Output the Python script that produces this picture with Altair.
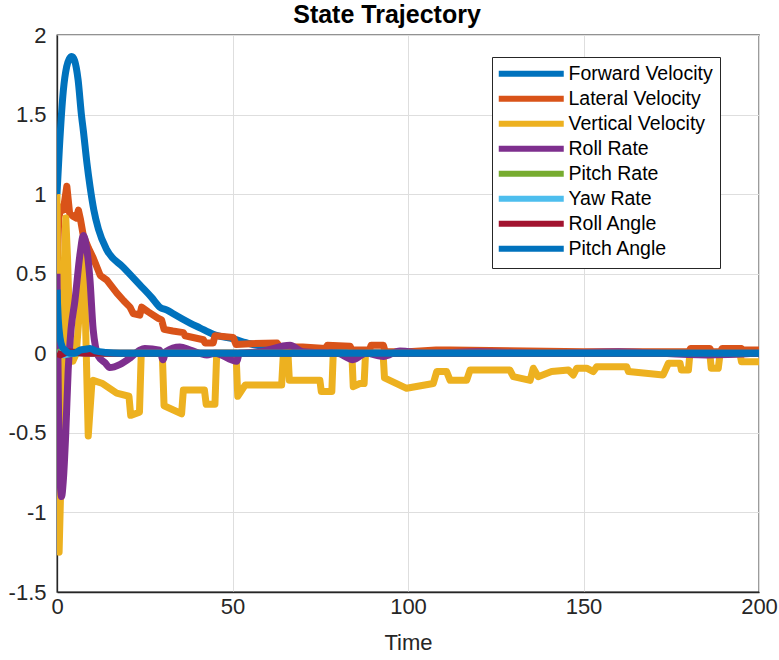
import altair as alt
import pandas as pd

FONT = "Liberation Sans"

series_names = ["Forward Velocity", "Lateral Velocity", "Vertical Velocity", "Roll Rate",
                "Pitch Rate", "Yaw Rate", "Roll Angle", "Pitch Angle"]
series_colors = ["#0072BD", "#D95319", "#EDB120", "#7E2F8E",
                 "#77AC30", "#4DBEEE", "#A2142F", "#0072BD"]
smooth_series = ["Forward Velocity", "Roll Rate", "Pitch Angle"]

x_ticks = [0, 50, 100, 150, 200]
y_ticks = [-1.5, -1, -0.5, 0, 0.5, 1, 1.5, 2]

# Forward Velocity
fv_t = [0, 0.66, 1.8, 2.75, 3.5, 4.2, 5.0, 6.0, 7.0, 7.5, 8.5, 9.4, 10.5, 11.8, 14.2, 18.9,
        23.6, 27.0, 29.3, 31.5, 33.0, 37.9, 40.7, 44.5, 50.2, 55.0, 60.0, 65.0, 70.0, 80.0,
        100.0, 150.0, 200.0]
fv_v = [1.0, 1.28, 1.65, 1.80, 1.85, 1.865, 1.84, 1.72, 1.49, 1.40, 1.20, 1.05, 0.90, 0.78,
        0.65, 0.54, 0.43, 0.35, 0.29, 0.27, 0.25, 0.19, 0.16, 0.12, 0.09, 0.06, 0.04, 0.025,
        0.01, 0.005, 0.0, 0.0, 0.0]

# Lateral Velocity
lv_t = [0, 0.5, 1.2, 1.8, 2.8, 3.6, 4.6, 5.5, 6.1, 6.7, 7.5, 9.0, 10.3, 12.3, 14.2, 17.0,
        19.0, 20.8, 21.7, 23.6, 24.1, 26.0, 28.8, 29.8, 30.5, 33.0, 36.0, 36.5, 41.7, 42.2,
        44.5, 45.0, 50.2, 51.0, 55.0, 62.7, 63.5, 66.4, 70.0, 76.5, 77.0, 83.5, 84.0, 89.0,
        89.5, 93.0, 93.5, 100.0, 108.0, 112.0, 150.0, 180.0, 180.5, 186.0, 186.5, 189.0,
        189.5, 195.0, 195.5, 200.0]
lv_v = [0.5, 0.85, 0.92, 0.9, 1.05, 0.88, 0.86, 0.85, 0.9, 0.84, 0.74, 0.66, 0.6, 0.49, 0.46,
        0.38, 0.33, 0.29, 0.25, 0.24, 0.29, 0.26, 0.22, 0.21, 0.15, 0.14, 0.13, 0.11, 0.085,
        0.065, 0.065, 0.11, 0.10, 0.055, 0.06, 0.065, 0.04, 0.04, 0.04, 0.03, 0.05, 0.045,
        0.02, 0.02, 0.05, 0.05, 0.01, 0.01, 0.02, 0.02, 0.01, 0.01, 0.03, 0.03, 0.01, 0.01,
        0.03, 0.03, 0.02, 0.02]

# Vertical Velocity
vv_t = [0, 0.6, 1.0, 1.5, 2.0, 2.5, 3.0, 3.8, 4.5, 5.5, 6.5, 7.6, 8.9, 9.9, 10.3, 13.0, 17.0,
        20.5, 21.0, 23.5, 24.0, 30.0, 30.5, 35.5, 36.0, 42.0, 42.5, 45.0, 45.5, 51.0, 51.5,
        53.6, 64.0, 64.5, 65.8, 66.2, 74.9, 75.3, 78.3, 78.7, 84.0, 84.4, 86.3, 87.5, 87.9,
        92.9, 93.3, 99.6, 107.2, 108.2, 111.0, 112.0, 116.7, 117.7, 129.0, 130.0, 134.8,
        135.7, 137.1, 140.9, 145.7, 147.1, 148.1, 150.9, 152.8, 153.8, 162.3, 162.8, 172.7,
        174.2, 177.5, 177.9, 179.9, 180.3, 186.0, 186.4, 188.4, 188.9, 194.6, 195.0, 200.0]
vv_v = [1.0, -1.25, -0.9, -0.2, 0.5, 0.85, 0.6, 0.0, -0.05, 0.0, 0.3, 0.68, -0.52, -0.2,
        -0.17, -0.19, -0.25, -0.27, -0.39, -0.37, 0.0, 0.0, -0.33, -0.38, -0.23, -0.23, -0.32,
        -0.32, 0.0, 0.0, -0.27, -0.2, -0.2, 0.0, 0.0, -0.17, -0.17, -0.24, -0.24, 0.0, 0.0,
        -0.21, -0.19, -0.19, 0.0, 0.0, -0.155, -0.22, -0.19, -0.115, -0.115, -0.17, -0.17,
        -0.105, -0.105, -0.147, -0.17, -0.094, -0.147, -0.115, -0.105, -0.136, -0.094, -0.094,
        -0.115, -0.084, -0.084, -0.115, -0.136, -0.063, -0.063, -0.105, -0.105, -0.005,
        -0.005, -0.094, -0.094, -0.005, -0.005, -0.053, -0.053]

# Roll Rate
rr_t = [0, 0.4, 0.9, 1.3, 1.8, 2.5, 3.2, 4.0, 5.1, 6.6, 7.5, 8.3, 9.4, 10.3, 11.8, 13.7, 15.0,
        18.0, 20.8, 23.6, 25.0, 29.3, 30.2, 31.0, 35.0, 38.0, 42.7, 45.0, 51.2, 52.0, 58.0,
        66.4, 70.0, 80.0, 84.3, 88.0, 93.0, 97.7, 105.0, 120.0, 140.0, 160.0, 185.0, 200.0]
rr_v = [0.5, -0.3, -0.8, -0.9, -0.8, -0.5, -0.1, 0.15, 0.33, 0.63, 0.74, 0.68, 0.46, 0.15,
        -0.02, -0.06, -0.09, -0.07, -0.03, 0.02, 0.03, 0.02, -0.04, 0.01, 0.04, 0.02, -0.01,
        0.0, -0.05, 0.0, 0.01, 0.05, 0.01, 0.0, -0.04, 0.0, -0.02, 0.015, 0.0, 0.01, 0.0,
        0.01, -0.01, 0.0]

# Pitch Rate
pr_t = [0, 1.0, 3.0, 6.0, 10.0, 20.0, 200.0]
pr_v = [0.0, 0.01, -0.005, 0.005, 0.0, 0.0, 0.0]

# Yaw Rate
yr_t = [0, 2.0, 5.0, 10.0, 200.0]
yr_v = [0.0, -0.01, 0.005, 0.0, 0.0]

# Roll Angle
ra_t = [0, 1.0, 3.0, 8.0, 200.0]
ra_v = [0.0, -0.01, 0.01, 0.0, 0.0]

# Pitch Angle
pa_t = [0, 0.4, 0.85, 1.5, 2.3, 3.7, 5.0, 6.6, 8.0, 9.4, 11.0, 14.0, 18.0, 200.0]
pa_v = [0.4, 0.2, 0.1, 0.04, 0.02, 0.0, 0.0, 0.02, 0.025, 0.03, 0.015, 0.005, 0.0, 0.0]

all_t = [fv_t, lv_t, vv_t, rr_t, pr_t, yr_t, ra_t, pa_t]
all_v = [fv_v, lv_v, vv_v, rr_v, pr_v, yr_v, ra_v, pa_v]

rows = []
for name, ts, vs in zip(series_names, all_t, all_v):
    for i, (t, v) in enumerate(zip(ts, vs)):
        rows.append({"series": name, "t": t, "v": v, "idx": i})
df = pd.DataFrame(rows)

x_axis = alt.Axis(values=x_ticks, grid=True, gridColor="#DEDEDE", gridWidth=1,
                  domainColor="#262626", domainWidth=1.3, ticks=False,
                  labelFont=FONT, labelFontSize=22, labelColor="#262626", labelPadding=4,
                  labelFlush=False, labelOverlap=False, labelExpr="toString(datum.value)",
                  titleFont=FONT, titleFontSize=22, titleFontWeight="normal",
                  titleColor="#262626", titlePadding=15)
y_axis = alt.Axis(values=y_ticks, grid=True, gridColor="#DEDEDE", gridWidth=1,
                  domainColor="#262626", domainWidth=1.3, ticks=False,
                  labelFont=FONT, labelFontSize=22, labelColor="#262626", labelPadding=11,
                  labelFlush=False, labelOverlap=False, labelExpr="toString(datum.value)")

legend = alt.Legend(orient="none", legendX=435, legendY=22, direction="vertical",
                    symbolType="M-2,0H11", symbolSize=100, symbolStrokeWidth=6,
                    labelFont=FONT, labelFontSize=19.5, labelColor="#000000",
                    labelOffset=50, rowPadding=0, padding=7, labelLimit=400,
                    strokeColor="#262626", fillColor="#FFFFFF")

base = alt.Chart(df)
layers = []
for name in series_names:
    interp = "monotone" if name in smooth_series else "linear"
    layers.append(
        base.transform_filter(alt.datum.series == name)
        .mark_line(strokeWidth=7, strokeJoin="round", clip=True, interpolate=interp)
        .encode(
            x=alt.X("t:Q", scale=alt.Scale(domain=[0, 200], nice=False, zero=False),
                    axis=x_axis, title="Time"),
            y=alt.Y("v:Q", scale=alt.Scale(domain=[-1.5, 2], nice=False, zero=False),
                    axis=y_axis, title=None),
            color=alt.Color("series:N",
                            scale=alt.Scale(domain=series_names, range=series_colors),
                            legend=legend, title=None),
            order=alt.Order("idx:Q"),
        )
    )

chart = alt.layer(*layers).properties(
    width=702, height=557,
    title=alt.TitleParams("State Trajectory", font=FONT, fontSize=25, fontWeight="bold",
                          color="#000000", anchor="middle", offset=-24, frame="group",
                          baseline="alphabetic", dx=-21),
    autosize=alt.AutoSizeParams(type="none"),
    padding={"left": 57, "top": 35, "right": 20, "bottom": 68},
    background="#FFFFFF",
).configure_view(stroke="#262626", strokeWidth=1.3)

chart.save("out.html", embed_options={"renderer": "svg", "actions": False})
